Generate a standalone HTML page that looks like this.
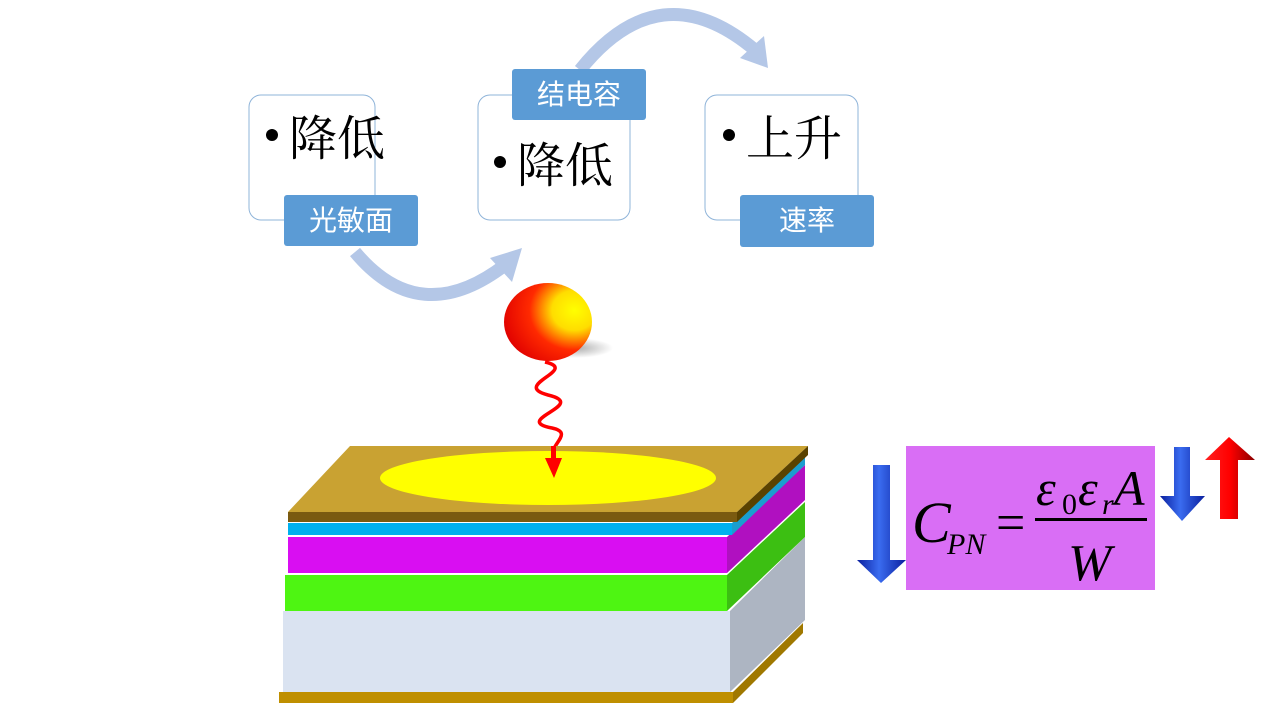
<!DOCTYPE html>
<html><head><meta charset="utf-8"><style>
html,body{margin:0;padding:0;background:#fff;width:1280px;height:720px;overflow:hidden}
svg{display:block}
.bt{font-family:"Liberation Serif","Noto Serif CJK SC",serif;font-size:48px;fill:#000}
.lb{font-family:"Liberation Sans","Noto Sans CJK SC",sans-serif;font-size:28px;fill:#fff}
.m{font-family:"Liberation Serif",serif;font-style:italic;fill:#000}
</style></head><body>
<svg width="1280" height="720" viewBox="0 0 1280 720" xmlns="http://www.w3.org/2000/svg">
<defs>
<radialGradient id="ball" cx="0.8" cy="0.35" r="0.85">
<stop offset="0" stop-color="#ffff00"/><stop offset="0.3" stop-color="#ffdd00"/><stop offset="0.6" stop-color="#ff2a00"/><stop offset="1" stop-color="#e00000"/></radialGradient>
<radialGradient id="sh" cx="0.5" cy="0.5" r="0.5"><stop offset="0" stop-color="#888" stop-opacity="0.7"/><stop offset="1" stop-color="#888" stop-opacity="0"/></radialGradient>
<linearGradient id="blue" x1="0" x2="1"><stop offset="0" stop-color="#0a1f9e"/><stop offset="0.45" stop-color="#3a6cf0"/><stop offset="1" stop-color="#0a1f9e"/></linearGradient>
<linearGradient id="red" x1="0" x2="1"><stop offset="0" stop-color="#ff2020"/><stop offset="0.5" stop-color="#ff0000"/><stop offset="1" stop-color="#8a0000"/></linearGradient>
</defs>
<!-- curved arrows -->
<path d="M355 252 Q420 330 505 265" fill="none" stroke="#b4c7e7" stroke-width="13"/>
<polygon points="490,258 522,248 512,282" fill="#b4c7e7"/>
<path d="M580 70 Q660 -30 755 50" fill="none" stroke="#b4c7e7" stroke-width="13"/>
<polygon points="740,58 768,68 764,36" fill="#b4c7e7"/>
<!-- boxes -->
<rect x="249" y="95" width="126" height="125" rx="12" fill="#fff" stroke="#8fb4d9"/>
<rect x="478" y="95" width="152" height="125" rx="12" fill="#fff" stroke="#8fb4d9"/>
<rect x="705" y="95" width="153" height="125" rx="12" fill="#fff" stroke="#8fb4d9"/>
<circle cx="272" cy="135" r="6"/><text class="bt" x="289" y="155">降低</text>
<circle cx="500" cy="162" r="6"/><text class="bt" x="517" y="182">降低</text>
<circle cx="729" cy="135" r="6"/><text class="bt" x="746" y="155">上升</text>
<rect x="284" y="195" width="134" height="51" rx="3" fill="#5b9bd5"/>
<text class="lb" x="351" y="230" text-anchor="middle">光敏面</text>
<rect x="512" y="69" width="134" height="51" rx="3" fill="#5b9bd5"/>
<text class="lb" x="579" y="104" text-anchor="middle">结电容</text>
<rect x="740" y="195" width="134" height="52" rx="3" fill="#5b9bd5"/>
<text class="lb" x="807" y="230" text-anchor="middle">速率</text>
<!-- ball -->
<ellipse cx="575" cy="348" rx="38" ry="10" fill="url(#sh)"/>
<ellipse cx="548" cy="322" rx="44" ry="39" fill="url(#ball)"/>
<!-- wavy -->
<path d="M545 362 C580 370 510 385 548 395 C590 405 510 420 552 428 C575 433 548 445 553 458 L553 462" fill="none" stroke="#ff0000" stroke-width="3.5"/>
<!-- layers: bottom gold -->
<polygon points="733,692 803,623 803,633 733,703" fill="#a07800"/>
<rect x="279" y="692" width="454" height="11" fill="#bf8f00"/>
<polygon points="730,611 805,537 805,620 730,692" fill="#adb5c2"/>
<rect x="283" y="611" width="447" height="81" fill="#dae3f1"/>
<polygon points="727,575 805,502 805,537 727,611" fill="#3cbf12"/>
<rect x="285" y="575" width="442" height="36" fill="#4ef512"/>
<polygon points="727,537 805,465 805,500 727,573" fill="#b010c0"/>
<rect x="288" y="537" width="439" height="36" fill="#d90ef2"/>
<polygon points="732,523 805,455 805,465 732,535" fill="#1a9ecf"/>
<rect x="288" y="523" width="444" height="12" fill="#00b0ee"/>
<polygon points="288,512 350,446 808,446 737,512" fill="#c9a232"/>
<polygon points="737,512 808,446 808,455 737,522" fill="#5a4200"/>
<rect x="288" y="512" width="449" height="10" fill="#7a5a10"/>
<ellipse cx="548" cy="478" rx="168" ry="27" fill="#ffff00"/>
<polygon points="551,446 556,446 556,458 562,458 554,478 545,458 551,458" fill="#ff0000"/>
<!-- formula -->
<rect x="906" y="446" width="249" height="144" fill="#d96ef5"/>
<text class="m" x="912" y="542" font-size="58">C</text>
<text class="m" x="947" y="554" font-size="30">PN</text>
<text x="996" y="540" font-size="52" font-family="Liberation Serif,serif">=</text>
<text class="m" x="1036" y="505" font-size="50">ε</text>
<text x="1062" y="514" font-size="30" font-family="Liberation Serif,serif">0</text>
<text class="m" x="1078" y="505" font-size="50">ε</text>
<text class="m" x="1102" y="514" font-size="30">r</text>
<text class="m" x="1114" y="505" font-size="50">A</text>
<rect x="1035" y="518" width="112" height="3" fill="#000"/>
<text class="m" x="1068" y="580" font-size="52">W</text>
<!-- arrows -->
<polygon points="873,465 890,465 890,560 906,560 881,583 857,560 873,560" fill="url(#blue)"/>
<polygon points="1174,447 1190,447 1190,496 1205,496 1182,521 1160,496 1174,496" fill="url(#blue)"/>
<polygon points="1220,519 1238,519 1238,460 1255,460 1229,437 1205,460 1220,460" fill="url(#red)"/>
</svg>
</body></html>
